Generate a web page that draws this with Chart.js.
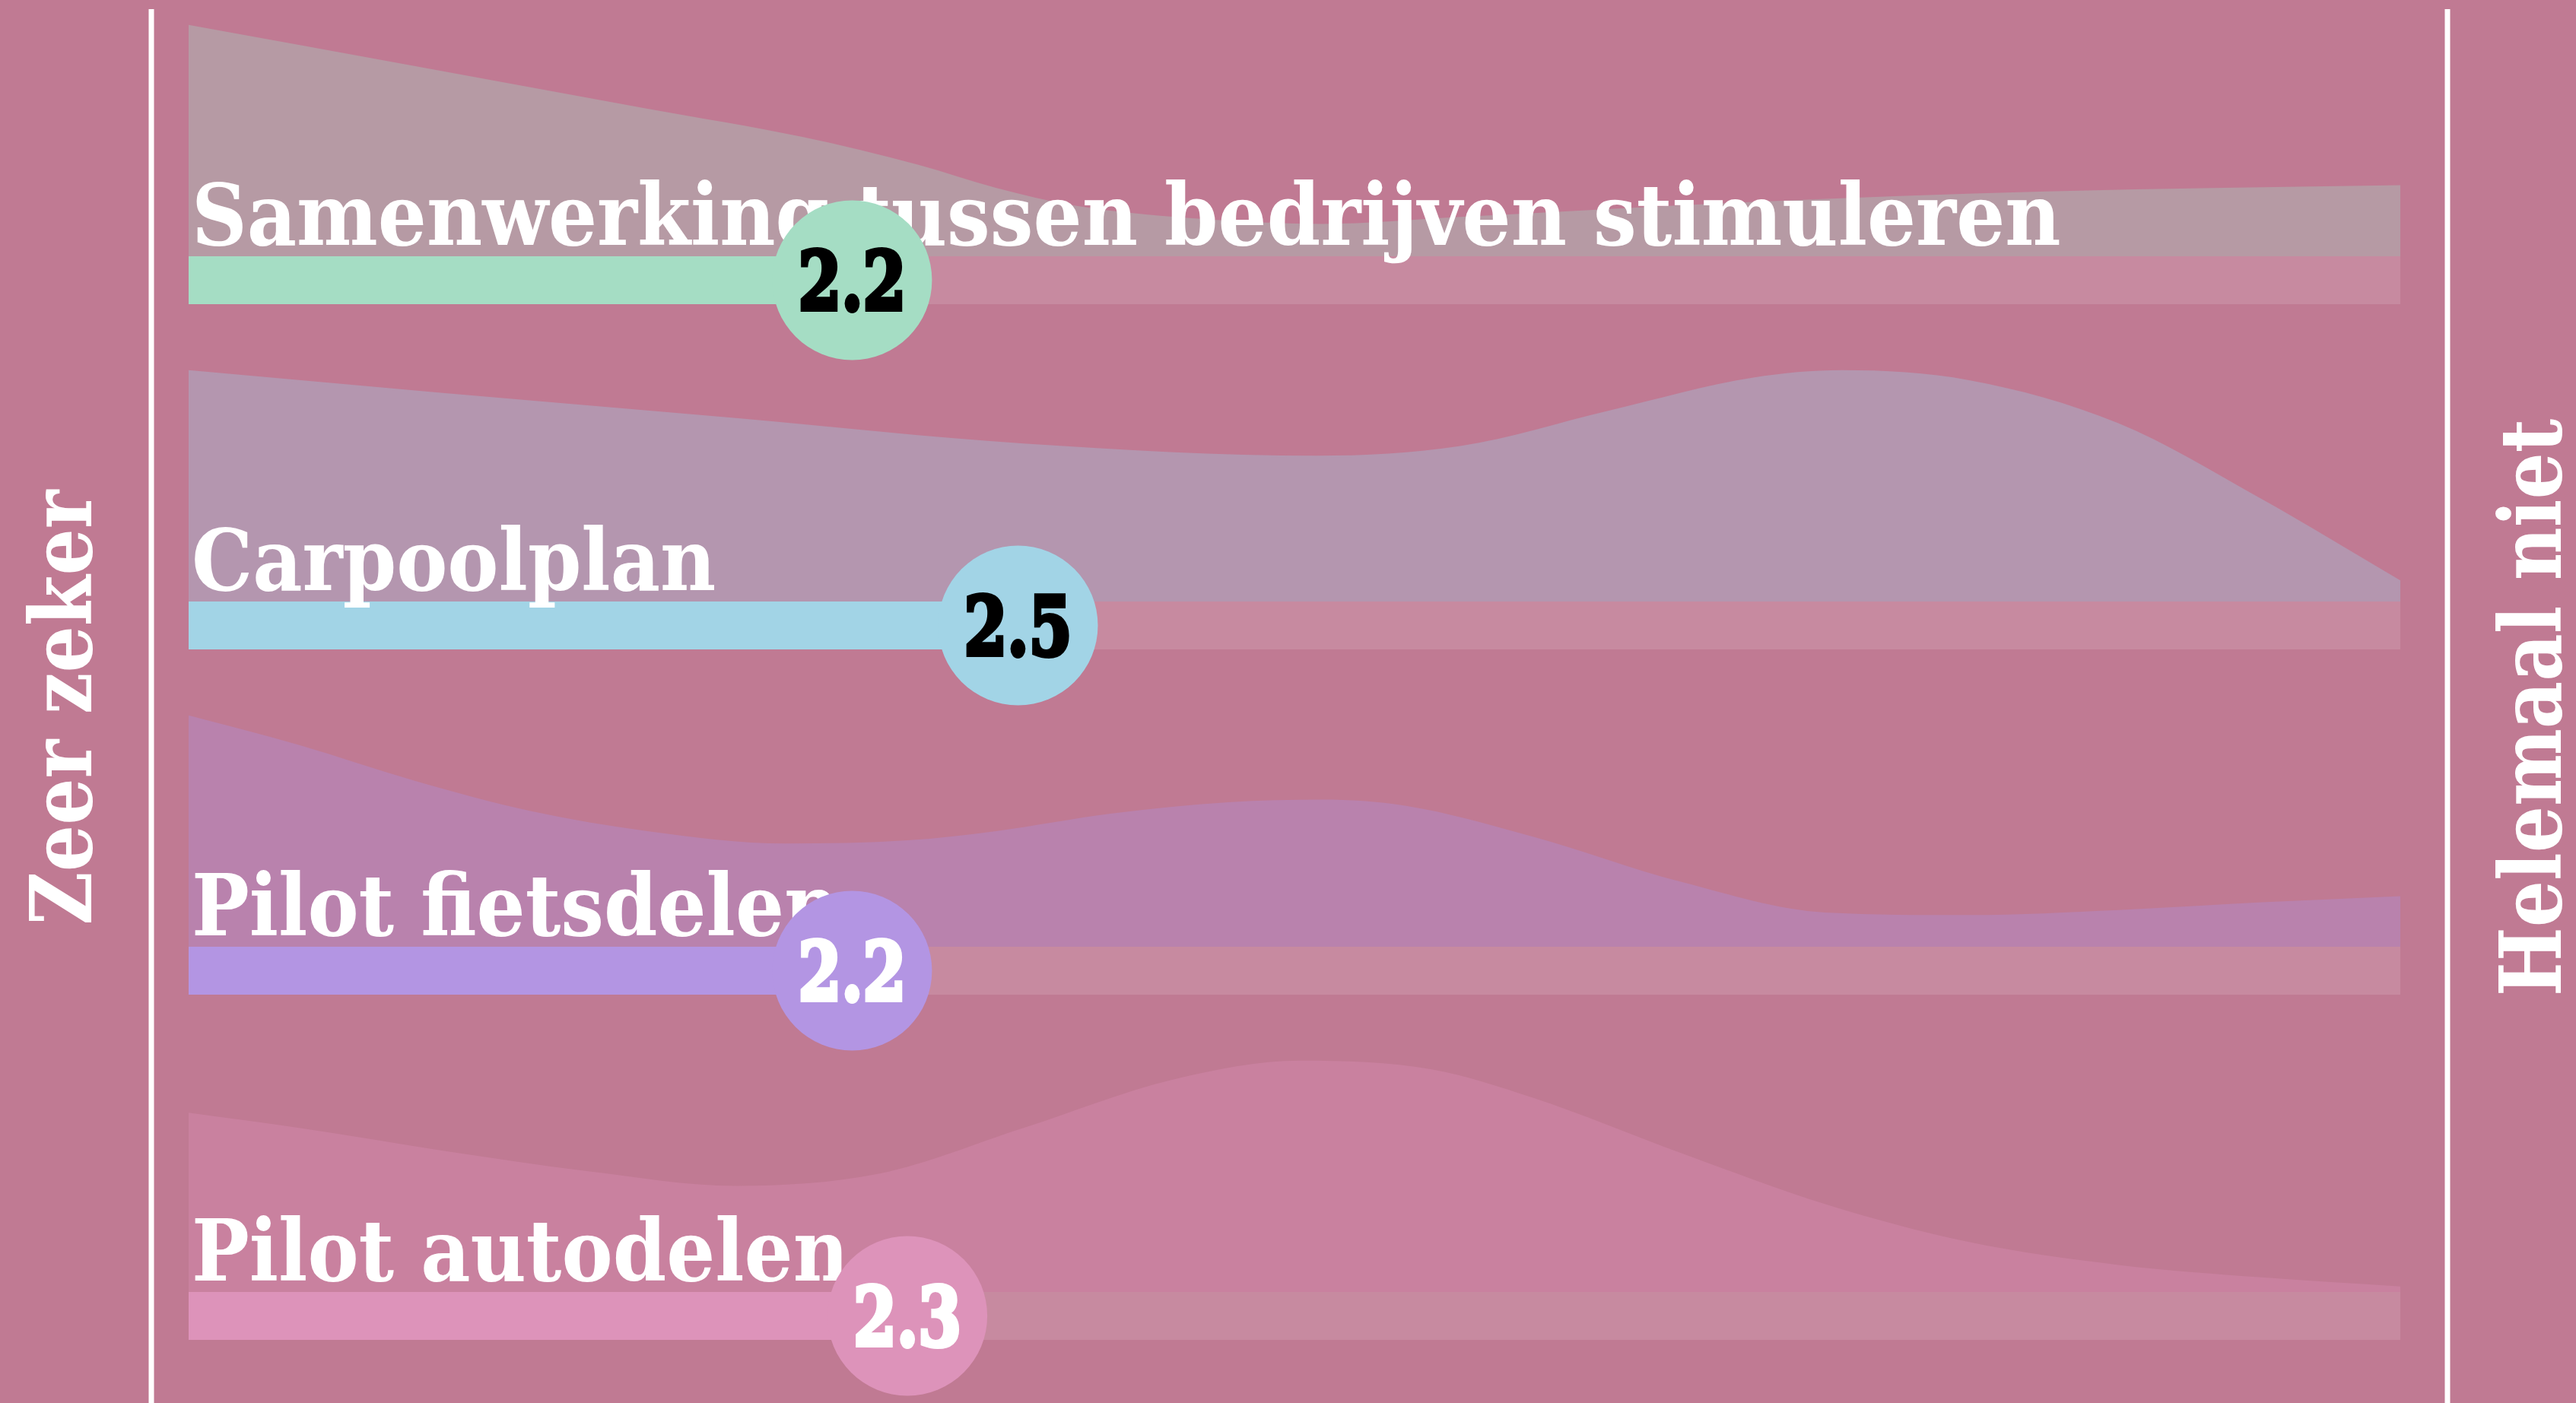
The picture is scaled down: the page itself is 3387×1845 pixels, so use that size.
<!DOCTYPE html>
<html>
<head>
<meta charset="utf-8">
<title>Ridgeline</title>
<script src="https://cdn.jsdelivr.net/npm/chart.js@4.4.0/dist/chart.umd.min.js"></script>
<style>
  html, body { margin: 0; padding: 0; background: #c07a93; overflow: hidden; }
  canvas { display: block; }
</style>
</head>
<body>
<canvas id="chart1" width="3387" height="1845"></canvas>
<script>
// Data
const rowLabels = [
  "Samenwerking tussen bedrijven stimuleren",
  "Carpoolplan",
  "Pilot fietsdelen",
  "Pilot autodelen",
];
const meanScores = [2.2, 2.5, 2.2, 2.3];
const scaleEnds = ["Zeer zeker", "Helemaal niet"];
const scaleMin = 1;
const scaleMax = 5;

// density per answer value (relative height, 1 = highest)
const ridgeSamenwerking = [
  [1.0, 1.0], [1.41, 0.822], [1.83, 0.638], [2.11, 0.516], [2.32, 0.395],
  [2.46, 0.296], [2.6, 0.22], [2.81, 0.165], [3.05, 0.14], [3.3, 0.17],
  [3.83, 0.235], [4.36, 0.28], [5.0, 0.307],
];
const ridgeCarpool = [
  [1.0, 1.0], [1.46, 0.902], [1.99, 0.793], [2.51, 0.683], [3.04, 0.63],
  [3.3, 0.672], [3.57, 0.826], [3.83, 0.968], [3.99, 1.0], [4.22, 0.957],
  [4.49, 0.771], [4.75, 0.442], [5.0, 0.091],
];
const ridgeFietsdelen = [
  [1.0, 1.0], [1.2, 0.872], [1.41, 0.717], [1.62, 0.586], [1.83, 0.5],
  [2.08, 0.446], [2.3, 0.46], [2.46, 0.5], [2.67, 0.576], [2.88, 0.625],
  [3.05, 0.636], [3.2, 0.61], [3.43, 0.477], [3.7, 0.28], [3.96, 0.148],
  [4.22, 0.137], [4.49, 0.159], [4.75, 0.192], [5.0, 0.219],
];
const ridgeAutodelen = [
  [1.0, 0.775], [1.2, 0.709], [1.46, 0.611], [1.72, 0.523], [1.99, 0.459],
  [2.25, 0.512], [2.51, 0.709], [2.78, 0.918], [3.01, 1.0], [3.25, 0.962],
  [3.43, 0.841], [3.7, 0.6], [3.96, 0.38], [4.22, 0.216], [4.49, 0.117],
  [4.75, 0.063], [5.0, 0.024],
];
const ridges = [ridgeSamenwerking, ridgeCarpool, ridgeFietsdelen, ridgeAutodelen];

// Styles
const ridgeColors = ["rgb(182,154,164)", "rgb(180,150,175)", "rgb(185,130,173)", "rgb(201,129,159)"];
const barColors = ["rgb(165,221,196)", "rgb(162,212,230)", "rgb(179,149,227)", "rgb(221,147,186)"];
const valueTextColors = ["#000000", "#000000", "#ffffff", "#ffffff"];
const trackColor = "rgba(255,255,255,0.12)";
const TITLE_FONT = '"DejaVu Serif", serif';

// Layout: each row is one unit tall on the y scale, top row at 3
const ridgeHeight = 0.67;   // highest ridge point, in row units
const barHalf = 0.0694;     // half bar thickness, in row units
const barPx = 63;
const dotRadius = 105;

const datasets = [];
rowLabels.forEach((label, k) => {
  const base = rowLabels.length - 1 - k;
  datasets.push({
    type: "line",
    role: "ridge",
    data: ridges[k].map(([x, d]) => ({ x, y: base + d * ridgeHeight })),
    fill: { value: base },
    backgroundColor: ridgeColors[k],
    borderWidth: 0,
    pointRadius: 0,
    cubicInterpolationMode: "monotone",
    order: 5,
  });
  datasets.push({
    type: "line",
    role: "track",
    data: [{ x: scaleMin, y: base - barHalf }, { x: scaleMax, y: base - barHalf }],
    borderColor: trackColor,
    borderWidth: barPx,
    pointRadius: 0,
    fill: false,
    order: 4,
  });
  datasets.push({
    type: "line",
    role: "bar",
    row: k,
    data: [{ x: scaleMin, y: base - barHalf }, { x: meanScores[k], y: base - barHalf }],
    borderColor: barColors[k],
    borderWidth: barPx,
    pointRadius: 0,
    fill: false,
    order: 3,
  });
  datasets.push({
    type: "line",
    role: "dot",
    row: k,
    data: [{ x: meanScores[k], y: base - barHalf }],
    showLine: false,
    pointRadius: dotRadius,
    pointBackgroundColor: barColors[k],
    pointBorderWidth: 0,
    clip: false,
    order: 1,
  });
});

// Row titles, drawn right after each bar so the dot covers them
const labelsPlugin = {
  id: "ridgeLabels",
  afterDatasetDraw(chart, args) {
    const ds = chart.data.datasets[args.index];
    if (ds.role !== "bar") return;
    const ctx = chart.ctx;
    const yScale = chart.scales.y;
    const base = rowLabels.length - 1 - ds.row;
    ctx.save();
    ctx.translate(chart.chartArea.left + 4, yScale.getPixelForValue(base) - 15);
    ctx.scale(0.9, 1);
    ctx.font = "bold 112px " + TITLE_FONT;
    ctx.fillStyle = "#ffffff";
    ctx.textAlign = "left";
    ctx.textBaseline = "alphabetic";
    ctx.fillText(rowLabels[ds.row], 0, 0);
    ctx.restore();
  },
  afterDatasetsDraw(chart) {
    const ctx = chart.ctx;
    const area = chart.chartArea;

    // score inside each dot
    chart.data.datasets.forEach((ds, i) => {
      if (ds.role !== "dot") return;
      const pt = chart.getDatasetMeta(i).data[0];
      ctx.save();
      ctx.translate(pt.x, pt.y + 38);
      ctx.scale(0.77, 1);
      ctx.font = "bold 106px " + TITLE_FONT;
      ctx.textAlign = "center";
      ctx.textBaseline = "alphabetic";
      ctx.fillStyle = valueTextColors[ds.row];
      ctx.strokeStyle = valueTextColors[ds.row];
      ctx.lineWidth = 6;
      const txt = meanScores[ds.row].toFixed(1);
      ctx.strokeText(txt, 0, 0);
      ctx.fillText(txt, 0, 0);
      ctx.restore();
    });

    // white frame lines either side
    ctx.save();
    ctx.strokeStyle = "#ffffff";
    ctx.lineWidth = 7;
    [area.left - 49, area.right + 62].forEach((x) => {
      ctx.beginPath();
      ctx.moveTo(x, 12);
      ctx.lineTo(x, chart.height);
      ctx.stroke();
    });
    ctx.restore();

    // scale end labels, both read bottom to top
    const midY = chart.height / 2 + 8;
    [[120, scaleEnds[0]], [3367, scaleEnds[1]]].forEach(([x, txt]) => {
      ctx.save();
      ctx.translate(x, midY);
      ctx.rotate(-Math.PI / 2);
      ctx.scale(0.86, 1);
      ctx.font = "bold 112px " + TITLE_FONT;
      ctx.fillStyle = "#ffffff";
      ctx.textAlign = "center";
      ctx.textBaseline = "alphabetic";
      ctx.fillText(txt, 0, 0);
      ctx.restore();
    });
  },
};

new Chart(document.getElementById("chart1"), {
  type: "line",
  data: { datasets },
  options: {
    responsive: false,
    animation: false,
    events: [],
    layout: { autoPadding: false, padding: { left: 248, right: 231, top: 0, bottom: 0 } },
    plugins: { legend: { display: false }, tooltip: { enabled: false } },
    scales: {
      x: { type: "linear", min: scaleMin, max: scaleMax, display: false },
      y: { type: "linear", min: -0.3216, max: 3.7423, display: false },
    },
  },
  plugins: [labelsPlugin],
});
</script>
</body>
</html>
